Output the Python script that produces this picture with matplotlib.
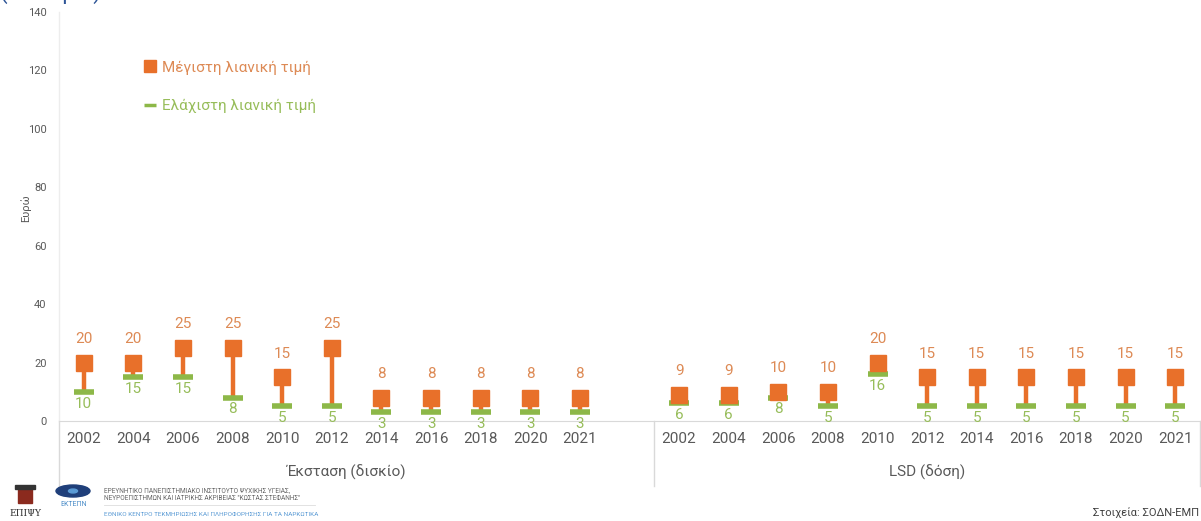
import numpy as np
import matplotlib.pyplot as plt
from matplotlib.lines import Line2D
from matplotlib.patches import Ellipse, Rectangle, Circle

# DATA
years_ecstasy = ["2002", "2004", "2006", "2008", "2010", "2012", "2014", "2016", "2018", "2020", "2021"]
max_ecstasy = [20, 20, 25, 25, 15, 25, 8, 8, 8, 8, 8]
min_ecstasy = [10, 15, 15, 8, 5, 5, 3, 3, 3, 3, 3]

years_lsd = ["2002", "2004", "2006", "2008", "2010", "2012", "2014", "2016", "2018", "2020", "2021"]
max_lsd = [9, 9, 10, 10, 20, 15, 15, 15, 15, 15, 15]
min_lsd = [6, 6, 8, 5, 16, 5, 5, 5, 5, 5, 5]

groups = ["Έκσταση (δισκίο)", "LSD (δόση)"]

ORANGE = "#E8702A"
ORANGE_TXT = "#DD8A55"
GREEN = "#8DB848"
GREEN_TXT = "#97BD5A"
GREY = "#595959"

plt.rcParams['font.family'] = ['Roboto', 'DejaVu Sans']

fig = plt.figure(figsize=(12.01, 5.21), dpi=100)
ax = fig.add_axes([59 / 1201, 1 - 421 / 521, 1141 / 1201, 409 / 521])

# positions: group 1 at 0..10, blank slot 11, group 2 at 12..22
x1 = np.arange(len(years_ecstasy))
x2 = np.arange(len(years_lsd)) + len(years_ecstasy) + 1
xs = np.concatenate([x1, x2])
maxs = np.array(max_ecstasy + max_lsd)
mins = np.array(min_ecstasy + min_lsd)

ax.vlines(xs, mins, maxs, color=ORANGE, lw=3.2, zorder=2)
ax.plot(xs, mins, ls='none', marker='_', ms=15, mew=4, color=GREEN, zorder=3)
ax.plot(xs, maxs, ls='none', marker='s', ms=11.5, color=ORANGE, zorder=4)

for x, hi, lo in zip(xs, maxs, mins):
    ax.annotate(str(hi), (x, hi), xytext=(0, 17), textcoords='offset points',
                ha='center', va='center', fontsize=11, color=ORANGE_TXT)
    ax.annotate(str(lo), (x, lo), xytext=(0, -8.5), textcoords='offset points',
                ha='center', va='center', fontsize=11, color=GREEN_TXT)

ax.set_xlim(-0.5, xs[-1] + 0.5)
ax.set_ylim(0, 140)
ax.set_yticks(np.arange(0, 141, 20))
ax.tick_params(axis='y', length=0, labelsize=8, colors=GREY, pad=9)
ax.set_ylabel("Ευρώ", fontsize=8, color=GREY)
ax.yaxis.set_label_coords(-0.024, 0.52)

ax.set_xticks(xs)
ax.set_xticklabels(years_ecstasy + years_lsd)
ax.tick_params(axis='x', length=0, labelsize=11, colors=GREY, pad=8)

for s in ['top', 'right', 'left']:
    ax.spines[s].set_visible(False)
ax.spines['bottom'].set_color("#D9D9D9")

# group separators and labels below axis
trans = ax.get_xaxis_transform()
for xv in [-0.5, len(years_ecstasy) + 0.5, xs[-1] + 0.5]:
    ax.plot([xv, xv], [0, -0.16], transform=trans, color="#D9D9D9", lw=1, clip_on=False)
ax.plot([-0.5, -0.5], [0, 1], transform=trans, color="#EDEDED", lw=1, clip_on=False)
ax.text(5.3, -0.125, groups[0], transform=trans, ha='center', va='center', fontsize=11, color=GREY)
ax.text(x2.mean(), -0.125, groups[1], transform=trans, ha='center', va='center', fontsize=11, color=GREY)

# legend
handles = [
    Line2D([], [], ls='none', marker='s', ms=8, color=ORANGE),
    Line2D([], [], ls='none', marker='_', ms=8, mew=2.5, color=GREEN),
]
leg = ax.legend(handles, ["Μέγιστη λιανική τιμή", "Ελάχιστη λιανική τιμή"],
                loc='upper left', bbox_to_anchor=(0.064, 0.915), frameon=False,
                fontsize=11, handlelength=0.6, handletextpad=0.45, labelspacing=1.6)
for txt, c in zip(leg.get_texts(), [ORANGE_TXT, GREEN_TXT]):
    txt.set_color(c)

# cut-off subtitle at the top
fig.text(0.0, 1.0 + 0.014, "(σε ευρώ)", fontsize=16, color="#2E5597", ha='left', va='center')

# footer: simple logos
W, H = 1201, 521
fig.patches.append(Rectangle((18 / W, 1 - 503 / H), 14 / W, 14 / H, transform=fig.transFigure,
                             color="#8B2A1E"))
fig.patches.append(Rectangle((15 / W, 1 - 489 / H), 20 / W, 4 / H, transform=fig.transFigure,
                             color="#333333"))
fig.patches.append(Ellipse((73 / W, 1 - 491 / H), 34 / W, 12 / H, transform=fig.transFigure,
                           color="#1F3F7A"))
fig.patches.append(Circle((73 / W, 1 - 491 / H), 4.5 / W, transform=fig.transFigure,
                          color="#5B9BD5"))
fig.text(25 / W, 1 - 514 / H, "ΕΠΙΨΥ", fontsize=6.5, color="#333333", family='DejaVu Serif',
         ha='center', va='center')
fig.text(74 / W, 1 - 505 / H, "ΕΚΤΕΠΝ", fontsize=5, color="#4A8CC8", ha='center', va='center')
fig.text(104 / W, 1 - 491 / H, "ΕΡΕΥΝΗΤΙΚΟ ΠΑΝΕΠΙΣΤΗΜΙΑΚΟ ΙΝΣΤΙΤΟΥΤΟ ΨΥΧΙΚΗΣ ΥΓΕΙΑΣ,",
         fontsize=4.7, color="#666666", va='center')
fig.text(104 / W, 1 - 498 / H, "ΝΕΥΡΟΕΠΙΣΤΗΜΩΝ ΚΑΙ ΙΑΤΡΙΚΗΣ ΑΚΡΙΒΕΙΑΣ \"ΚΩΣΤΑΣ ΣΤΕΦΑΝΗΣ\"",
         fontsize=4.7, color="#666666", va='center')
fig.add_artist(Line2D([104 / W, 315 / W], [1 - 505 / H, 1 - 505 / H], color="#DDDDDD", lw=0.6))
fig.text(104 / W, 1 - 515 / H, "ΕΘΝΙΚΟ ΚΕΝΤΡΟ ΤΕΚΜΗΡΙΩΣΗΣ ΚΑΙ ΠΛΗΡΟΦΟΡΗΣΗΣ ΓΙΑ ΤΑ ΝΑΡΚΩΤΙΚΑ",
         fontsize=4.6, color="#5B9BD5", va='center')
fig.text(1199 / W, 1 - 513 / H, "Στοιχεία: ΣΟΔΝ-ΕΜΠ", fontsize=8, color="#404040", ha='right', va='center')

fig.savefig("out.png", dpi=100)
